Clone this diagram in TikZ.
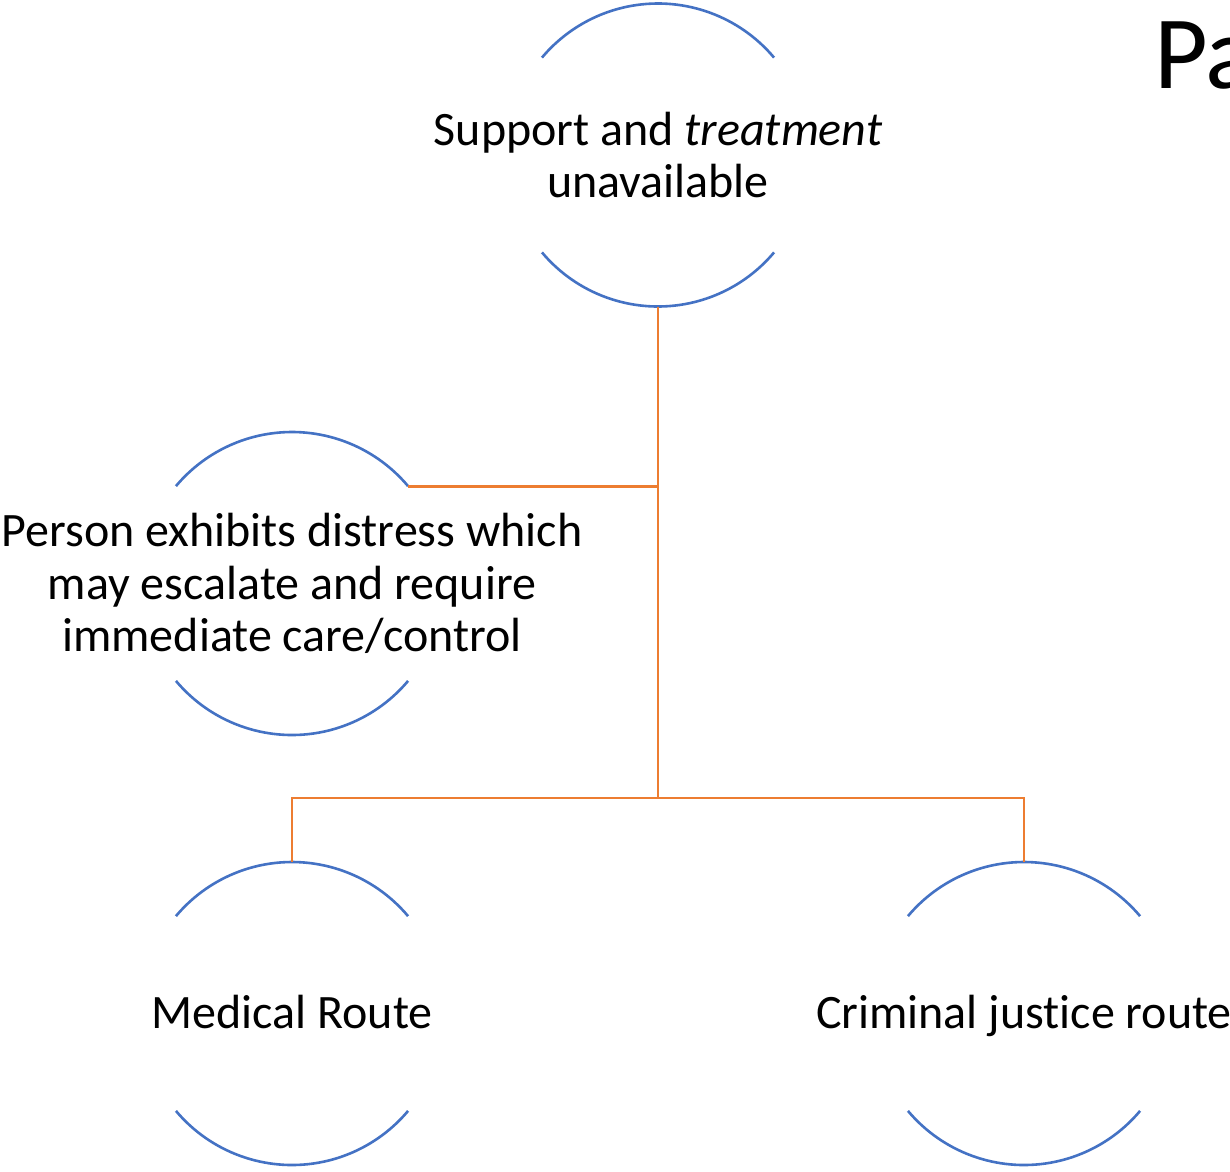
\documentclass[tikz,border=0pt]{standalone}
\usepackage{fontspec}
\setmainfont[Ligatures=NoCommon]{Carlito}
\definecolor{arcblue}{HTML}{4472C4}
\definecolor{linkorange}{HTML}{ED7D31}
\begin{document}
\begin{tikzpicture}[x=1pt,y=1pt,
  arcline/.style={draw=arcblue, line width=2.6pt},
  link/.style={draw=linkorange, line width=2.8pt},
  bubble/.style={circle, minimum size=303pt, inner sep=0pt, outer sep=0pt},
  txt/.style={align=center, inner sep=0pt, font=\fontsize{48}{52.5}\selectfont}]
\useasboundingbox[fill=white] (0,0) rectangle (1230,-1171);
% bubbles
\node[bubble] (top) at (658,-155) {};
\node[bubble] (left) at (292,-583.5) {};
\node[bubble] (med) at (292,-1013.5) {};
\node[bubble] (crim) at (1024,-1013.5) {};
% labels
\node[txt] (toptxt) at (top) {Support and \textit{treatment}\\unavailable};
\node[txt] (lefttxt) at (left) {Person exhibits distress which\\may escalate and require\\immediate care/control};
\node[txt, anchor=base, yshift=-15pt] (medtxt) at (med) {Medical Route};
\node[txt, anchor=base, yshift=-15pt] (crimtxt) at (crim) {Criminal justice route};
% arcs
\foreach \n in {top,left,med,crim}{
  \draw[arcline] (\n.40) arc[start angle=40, end angle=140, radius=151.5pt];
  \draw[arcline] (\n.220) arc[start angle=220, end angle=320, radius=151.5pt];
}
% connectors
\coordinate (split) at (658,-798);
\draw[link] (top.south) -- (split);
\draw[link] (left.40) -- (left.40 -| top.south);
\draw[link] (med.north) |- (split) -| (crim.north);
% title
\node[anchor=base west, inner sep=0pt, font=\fontsize{104}{110}\selectfont] (title) at (1154,-88) {Pa};
\end{tikzpicture}
\end{document}
